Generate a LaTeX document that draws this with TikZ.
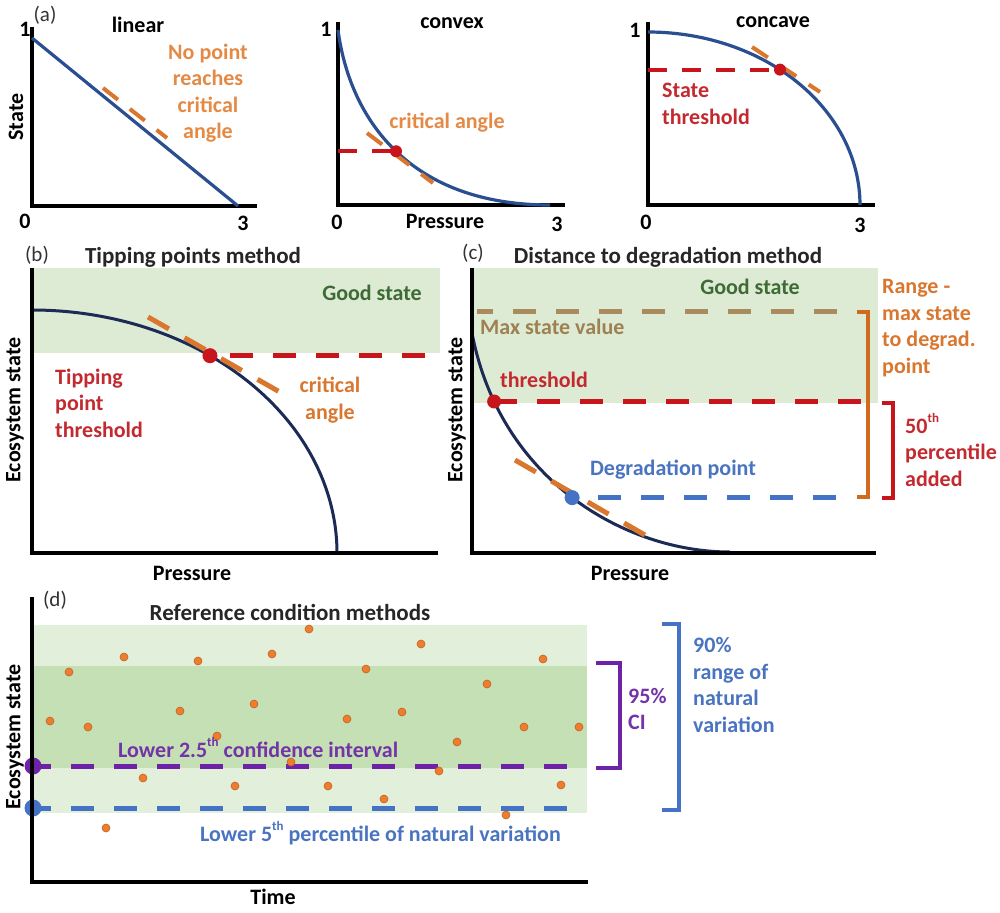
\documentclass[tikz,border=0pt]{standalone}
\usepackage{fontspec}
\setmainfont{Carlito}
\usetikzlibrary{calc}
\definecolor{navy}{HTML}{1C2B55}
\definecolor{curveblue}{HTML}{2A4F91}
\definecolor{orangetxt}{HTML}{E58A45}
\definecolor{orangedash}{HTML}{D9772F}
\definecolor{orangebr}{HTML}{D06A1C}
\definecolor{redline}{HTML}{C8151B}
\definecolor{redtxt}{HTML}{C32A30}
\definecolor{tanline}{HTML}{A98B5E}
\definecolor{tantxt}{HTML}{9E8152}
\definecolor{lightgreen}{HTML}{DEEBD4}
\definecolor{lightgreenD}{HTML}{E2EFDA}
\definecolor{darkgreen}{HTML}{C5E0B4}
\definecolor{goodgreen}{HTML}{3E6B35}
\definecolor{bluec}{HTML}{4472C4}
\definecolor{bluetxt}{HTML}{4A74C0}
\definecolor{purp}{HTML}{6E22A8}
\definecolor{purptxt}{HTML}{7433A6}
\definecolor{dotorange}{HTML}{EE7D2E}
\newcommand{\sth}{\raisebox{0.5em}{\fontsize{13}{13}\selectfont th}}
\begin{document}
\begin{tikzpicture}[x=1pt,y=-1pt,
  lbl/.style={font=\fontsize{22}{26.5}\selectfont\bfseries, inner sep=0pt},
  ttl/.style={font=\fontsize{23}{27}\selectfont\bfseries, inner sep=0pt, text=black!85},
  tag/.style={font=\fontsize{21}{25}\selectfont, inner sep=0pt, text=black!80},
  smallaxis/.style={line width=4pt, black, line join=miter},
  axisline/.style={line width=4.5pt, black, line join=miter},
  dashA/.style={line width=4pt, dash pattern=on 19pt off 15pt},
  dashB/.style={line width=5pt, dash pattern=on 23pt off 20pt},
  dashO/.style={line width=5pt, dash pattern=on 24pt off 18pt, orangedash},
  curve/.style={line width=3pt, navy},
  acurve/.style={line width=3.2pt, curveblue},
  bracketline/.style={line width=4.5pt, line join=miter},
]
\useasboundingbox (0,0) rectangle (1000,912);
\fill[white] (0,0) rectangle (1000,912);

% ================= (a) linear =================
\coordinate (Lt) at (32,27);
\coordinate (Lo) at (32,206);
\coordinate (Lr) at (257,206);
\draw[smallaxis] (Lt) -- (Lo) -- (Lr);
\coordinate (Ls) at (32,38);
\coordinate (Le) at (238,206);
\draw[acurve] (Ls) -- (Le);
\coordinate (Lda) at (103,88);
\coordinate (Ldb) at (167,138);
\draw[dashA, orangedash] (Lda) -- (Ldb);
\node[tag] (atag) at (45,15) {(a)};
\node[lbl] (lone) at (25,29) {1};
\node[lbl] (lzero) at (25,221) {0};
\node[lbl] (lthree) at (243,223) {3};
\node[lbl] (ltitle) at (138,25) {linear};
\node[lbl, rotate=90] (lstate) at (16,117) {State};
\node[lbl, text=orangetxt, align=center] (lnote) at (208,93) {No point\\reaches\\critical\\angle};

% ================= (a) convex =================
\coordinate (Ct) at (338,22);
\coordinate (Cax) at (338,205);
\coordinate (Cr) at (565,205);
\draw[smallaxis] (Ct) -- (Cax) -- (Cr);
\draw[acurve] (338,30) .. controls (350,120) and (410,205) .. (550,205) coordinate[pos=0.5] (Cdot);
\draw[dashA, redline] (Cdot -| Cax) -- (Cdot);
\coordinate (Cda) at (367,133);
\coordinate (Cdb) at (433,183);
\draw[dashA, orangedash] (Cda) -- (Cdb);
\fill[redline] (Cdot) circle[radius=6pt];
\node[lbl] (cone) at (326,29) {1};
\node[lbl] (czero) at (337,222) {0};
\node[lbl] (cthree) at (557,224) {3};
\node[lbl] (cpress) at (445,221) {Pressure};
\node[lbl] (ctitle) at (452,23) {convex};
\node[lbl, text=orangetxt] (cnote) at (447,123) {critical angle};

% ================= (a) concave =================
\coordinate (Kt) at (648,22);
\coordinate (Kax) at (648,205);
\coordinate (Kr) at (875,205);
\draw[smallaxis] (Kt) -- (Kax) -- (Kr);
\draw[acurve] plot[domain=0:90, samples=80, smooth] ({648+212*sin(\x)},{205-173*cos(\x)});
\coordinate (Kdot) at ({648+212*sin(38.5)},{205-173*cos(38.5)});
\draw[dashA, redline] (Kax |- Kdot) -- (Kdot);
\coordinate (Kda) at (752,47);
\coordinate (Kdb) at (820,92);
\draw[dashA, orangedash] (Kda) -- (Kdb);
\fill[redline] (Kdot) circle[radius=6pt];
\node[lbl] (kone) at (635,30) {1};
\node[lbl] (kzero) at (646,222) {0};
\node[lbl] (kthree) at (860,225) {3};
\node[lbl] (ktitle) at (773,22) {concave};
\node[lbl, text=redtxt, align=left, anchor=west] (knote) at (662,104) {State\\threshold};

% ================= (b) =================
\fill[lightgreen] (32,268) rectangle (440,353);
\draw[curve] plot[domain=0:90, samples=90, smooth] ({32+305*sin(\x)},{553-243*cos(\x)});
\coordinate (Bdot) at ({32+305*sin(35.7)},{553-243*cos(35.7)});
\coordinate (Bend) at (438,355);
\draw[dashB, redline, dash phase=23pt] (Bdot) -- (Bdot -| Bend);
\coordinate (Boa) at (148,317);
\coordinate (Bob) at (285,395);
\draw[dashO] (Boa) -- (Bob);
\fill[redline] (Bdot) circle[radius=7.5pt];
\coordinate (Bt) at (32,268);
\coordinate (Bo) at (32,553);
\coordinate (Br) at (438,553);
\draw[axisline] (Bt) -- (Bo) -- (Br);
\node[tag] (btag) at (37,255) {(b)};
\node[ttl] (btitle) at (193,257) {Tipping points method};
\node[lbl, text=goodgreen] (bgood) at (372,293) {Good state};
\node[lbl, text=redtxt, align=left, anchor=west] (bthr) at (55,403) {Tipping\\point\\threshold};
\node[lbl, text=orangedash, align=center] (bcrit) at (330,400) {critical\\angle};
\node[lbl] (bpress) at (192,573) {Pressure};
\node[lbl, rotate=90] (beco) at (15,410) {Ecosystem state};

% ================= (c) =================
\fill[lightgreen] (472,268) rectangle (878,403);
\coordinate (Tstart) at (477,311);
\coordinate (Tend) at (847,311);
\draw[dashB, tanline, dash phase=7pt] (Tstart) -- (Tend);
\draw[curve] (472,333) .. controls (500,480) and (625,552) .. (730,552)
   coordinate[pos=0.17] (Rdot) coordinate[pos=0.5] (Gdot);
\coordinate (Rend) at (875,403);
\draw[dashB, redline] (Rdot) -- (Rdot -| Rend);
\coordinate (Gend) at (847,498);
\draw[dashB, bluec, dash phase=17pt] (Gdot) -- (Gdot -| Gend);
\coordinate (Coa) at (515,460);
\coordinate (Cob) at (650,538);
\draw[dashO] (Coa) -- (Cob);
\fill[redline] (Rdot) circle[radius=7pt];
\fill[bluec] (Gdot) circle[radius=7.5pt];
\coordinate (Ct2) at (472,268);
\coordinate (Co2) at (472,553);
\coordinate (Cr2) at (876,553);
\draw[axisline] (Ct2) -- (Co2) -- (Cr2);
% brackets
\coordinate (OBa) at (857,312);
\coordinate (OBb) at (868,312);
\coordinate (OBc) at (868,497);
\coordinate (OBd) at (857,497);
\draw[bracketline, orangebr] (OBa) -- (OBb) -- (OBc) -- (OBd);
\coordinate (RBa) at (882,403);
\coordinate (RBb) at (893,403);
\coordinate (RBc) at (893,498);
\coordinate (RBd) at (882,498);
\draw[bracketline, redline] (RBa) -- (RBb) -- (RBc) -- (RBd);
\node[tag] (ctag) at (473,253) {(c)};
\node[ttl] (ctitle2) at (668,257) {Distance to degradation method};
\node[lbl, text=goodgreen] (cgood) at (750,287) {Good state};
\node[lbl, text=tantxt, anchor=west] (cmax) at (480,327) {Max state value};
\node[lbl, text=redtxt, anchor=west] (cthr) at (500,380) {threshold};
\node[lbl, text=bluetxt] (cdeg) at (673,470) {Degradation point};
\node[lbl] (cpress2) at (630,573) {Pressure};
\node[lbl, rotate=90] (ceco) at (457,410) {Ecosystem state};
\node[lbl, text=orangedash, align=left, anchor=west] (crange) at (882,328) {Range -\\max state\\to degrad.\\point};
\node[lbl, text=redtxt, align=left, anchor=west] (cfifty) at (905,450) {50\sth\\percentile\\added};

% ================= (d) =================
\fill[lightgreenD] (33,625) rectangle (587,813);
\fill[darkgreen] (33,666) rectangle (587,768);
\coordinate (Pdot) at (33,766);
\coordinate (Pend) at (587,766);
\coordinate (Qdot) at (33,808);
\coordinate (Qend) at (587,808);
\draw[dashB, purp, dash phase=5pt] (Pdot) -- (Pend);
\draw[dashB, bluec, dash phase=5pt] (Qdot) -- (Qend);
\foreach \px/\py in {50/721,69/672,88/727,124/657,106/828,143/778,180/711,198/661,217/736,235/786,254/704,272/654,291/762,309/629,347/719,328/786,366/669,384/799,402/712,421/644,439/771,457/742,487/684,506/815,524/727,543/659,561/785,579/727}
  \filldraw[fill=dotorange, draw=dotorange!80!black, line width=0.6pt] (\px,\py) circle[radius=4pt];
\fill[purp] (Pdot) circle[radius=8.5pt];
\fill[bluec] (Qdot) circle[radius=8.5pt];
\coordinate (Dt) at (32,597);
\coordinate (Do) at (32,882);
\coordinate (Dr) at (588,882);
\draw[axisline] (Dt) -- (Do) -- (Dr);
% brackets
\coordinate (PBa) at (596,663);
\coordinate (PBb) at (620,663);
\coordinate (PBc) at (620,768);
\coordinate (PBd) at (596,768);
\draw[bracketline, purp] (PBa) -- (PBb) -- (PBc) -- (PBd);
\coordinate (QBa) at (662,624);
\coordinate (QBb) at (679,624);
\coordinate (QBc) at (679,810);
\coordinate (QBd) at (662,810);
\draw[bracketline, bluec] (QBa) -- (QBb) -- (QBc) -- (QBd);
\node[tag] (dtag) at (55,600) {(d)};
\node[ttl] (dtitle) at (290,612) {Reference condition methods};
\node[lbl, text=purptxt, anchor=west] (dlow) at (118,748) {Lower 2.5\sth{} confidence interval};
\node[lbl, text=bluetxt, anchor=west] (dfive) at (200,833) {Lower 5\sth{} percentile of natural variation};
\node[lbl] (dtime) at (273,897) {Time};
\node[lbl, rotate=90] (deco) at (15,737) {Ecosystem state};
\node[lbl, text=purptxt, align=left, anchor=west] (dci) at (628,709) {95\%\\CI};
\node[lbl, text=bluetxt, align=left, anchor=west] (dnine) at (693,685) {90\%\\range of\\natural\\variation};
\end{tikzpicture}
\end{document}
